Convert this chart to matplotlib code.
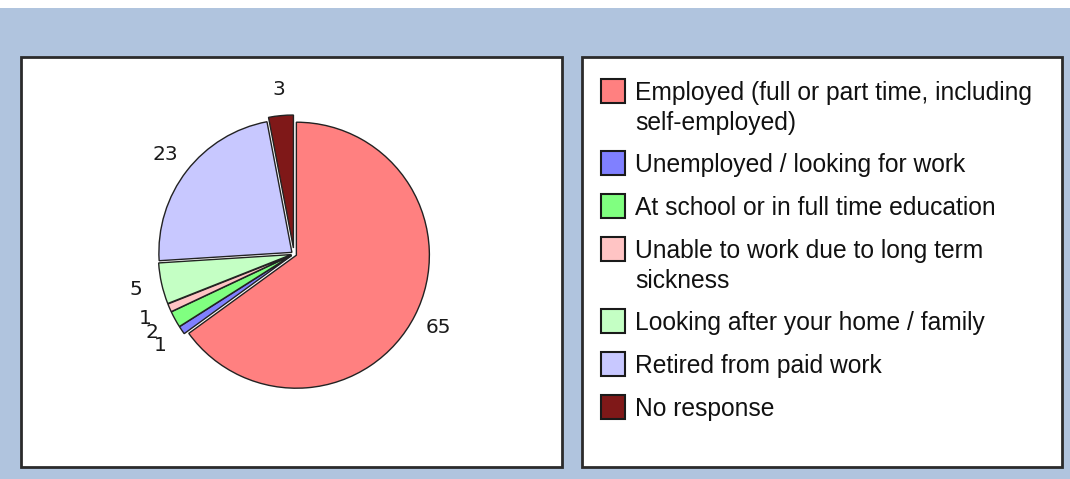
import matplotlib
matplotlib.use("Agg")
import matplotlib.pyplot as plt
from matplotlib.patches import Rectangle

categories = [
    "Employed (full or part time, including\nself-employed)",
    "Unemployed / looking for work",
    "At school or in full time education",
    "Unable to work due to long term\nsickness",
    "Looking after your home / family",
    "Retired from paid work",
    "No response",
]
values = [65, 1, 2, 1, 5, 23, 3]
colors = ["#FF8080", "#8080FF", "#80FF80", "#FFC4C4", "#C4FFC4", "#C8C8FF", "#7F1818"]

W, H = 1070, 479
fig = plt.figure(figsize=(W / 100, H / 100), dpi=100)
fig.patch.set_facecolor("white")

def px(x, y, w, h):
    return [x / W, 1 - (y + h) / H, w / W, h / H]

# background
bg = fig.add_axes([0, 0, 1, 1])
bg.set_xlim(0, W); bg.set_ylim(H, 0); bg.axis("off")
bg.add_patch(Rectangle((0, 8), W, H - 8, facecolor="#B0C4DE", edgecolor="none"))
bg.add_patch(Rectangle((21, 57), 541, 410, facecolor="white", edgecolor="#2b2b2b", lw=2))
bg.add_patch(Rectangle((582, 57), 480, 410, facecolor="white", edgecolor="#2b2b2b", lw=2))

# pie
R = 133
cx, cy = 294, 254
half = 180
ax = fig.add_axes(px(cx - half, cy - half, 2 * half, 2 * half))
explode = [0.02] * len(values)
explode[-1] = 0.045
wedges, texts = ax.pie(values, colors=colors, startangle=90, counterclock=False,
                       explode=explode, labels=[str(v) for v in values], labeldistance=1.2,
                       wedgeprops=dict(edgecolor="#222222", linewidth=1.0),
                       textprops=dict(fontsize=14.5, color="#1a1a1a", family="DejaVu Sans"))
ax.set_xlim(-half / R, half / R); ax.set_ylim(-half / R, half / R)
ax.set_aspect("equal"); ax.axis("off")
for t in texts:
    t.set_ha("center"); t.set_va("center")

# legend
lx = 601
ly = 91
for lab, col in zip(categories, colors):
    nlines = lab.count("\n") + 1
    bg.add_patch(Rectangle((lx, ly - 12), 24, 24, facecolor=col, edgecolor="#1a1a1a", lw=1.5))
    bg.text(635, ly - 10, lab, fontsize=17.7, family="Liberation Sans", color="#111111",
            va="top", ha="left", linespacing=1.3)
    ly += 43 + 29 * (nlines - 1)

fig.savefig("out.png", dpi=100)
